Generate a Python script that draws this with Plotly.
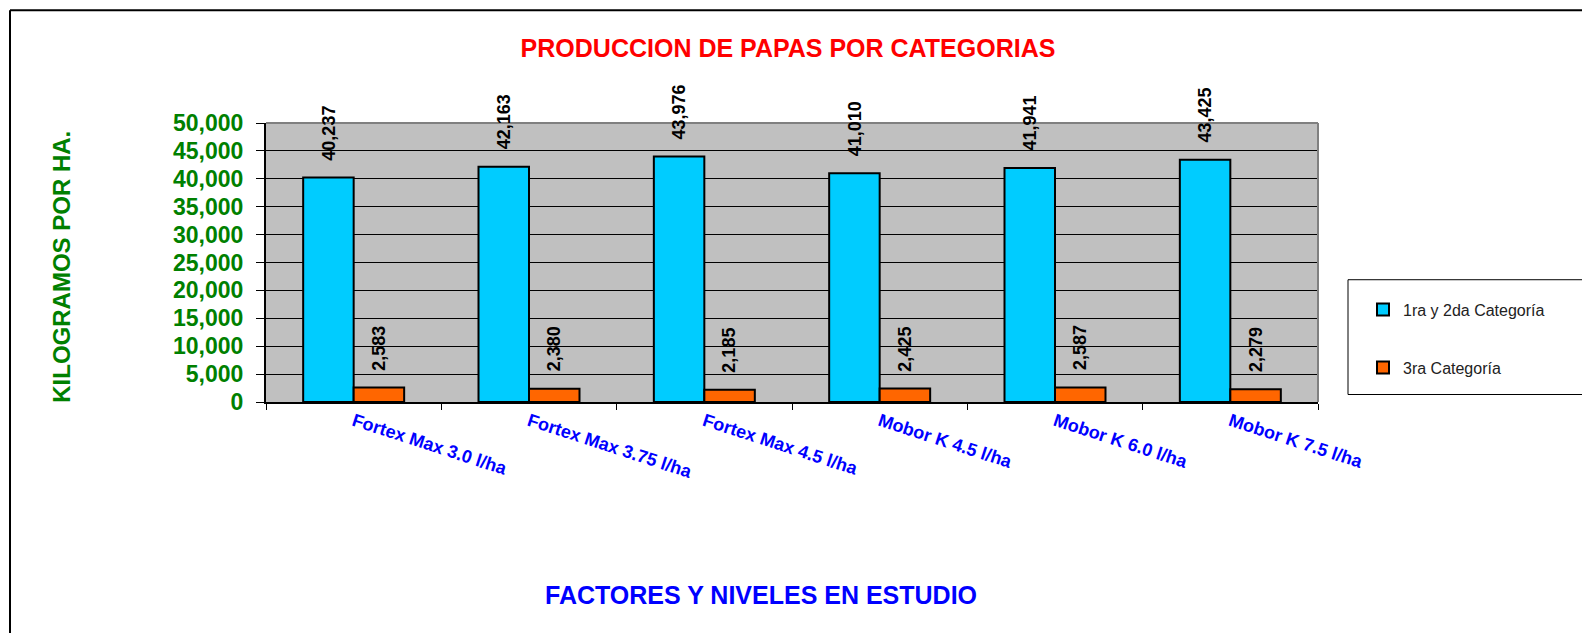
import plotly.graph_objects as go

categories = ["Fortex Max 3.0 l/ha", "Fortex Max 3.75 l/ha", "Fortex Max 4.5 l/ha",
              "Mobor K 4.5 l/ha", "Mobor K 6.0 l/ha", "Mobor K 7.5 l/ha"]
cat12 = [40237, 42163, 43976, 41010, 41941, 43425]
cat3 = [2583, 2380, 2185, 2425, 2587, 2279]
series_names = ["1ra y 2da Categoría", "3ra Categoría"]
title_text = "PRODUCCION DE PAPAS POR CATEGORIAS"
y_title = "KILOGRAMOS POR HA."
x_title = "FACTORES Y NIVELES EN ESTUDIO"

OFF = 8  # default page body margin
W, H = 1590 - OFF, 633 - OFF
L, R, T, B = 266, 1318, 123, 402.5   # plot area in page pixels

def px(x):
    return (x - L) / (R - L)

def py(y):
    return (B - y) / (B - T)

FONT = "Arial, Liberation Sans, sans-serif"

fig = go.Figure()
fig.add_trace(go.Bar(x=categories, y=cat12, name=series_names[0],
                     marker=dict(color="#00CCFF", line=dict(color="black", width=2)),
                     legendgroup="a"))
fig.add_trace(go.Bar(x=categories, y=cat3, name=series_names[1],
                     marker=dict(color="#FF6600", line=dict(color="black", width=2)),
                     legendgroup="b"))

annotations = []
for vals, shift in ((cat12, -25), (cat3, 25)):
    for c, v in zip(categories, vals):
        annotations.append(dict(x=c, y=v, xref="x", yref="y", text=f"{v:,}",
                                textangle=-90, showarrow=False, xshift=shift, yshift=15,
                                xanchor="center", yanchor="bottom",
                                font=dict(family=FONT, size=18, color="black", weight="bold")))

annotations.append(dict(x=px(62), y=py(267), xref="paper", yref="paper", text=y_title,
                        textangle=-90, showarrow=False, xanchor="center", yanchor="middle",
                        font=dict(family=FONT, size=24, color="#008000", weight="bold")))
annotations.append(dict(x=px(761), y=py(596), xref="paper", yref="paper", text=x_title,
                        showarrow=False, xanchor="center", yanchor="middle",
                        font=dict(family=FONT, size=25, color="#0000FF", weight="bold")))

shapes = [
    # outer frame (left and top edges)
    dict(type="line", xref="paper", yref="paper", x0=px(10), x1=px(10), y0=-2, y1=py(10),
         line=dict(color="black", width=2)),
    dict(type="line", xref="paper", yref="paper", x0=px(10), x1=2, y0=py(10), y1=py(10),
         line=dict(color="black", width=2)),
    # plot-area top & right border (grey)
    dict(type="line", xref="paper", yref="paper", x0=0, x1=1, y0=1, y1=1,
         line=dict(color="#808080", width=2)),
    dict(type="line", xref="paper", yref="paper", x0=1, x1=1, y0=0, y1=1,
         line=dict(color="#808080", width=2)),
    # legend box
    dict(type="rect", xref="paper", yref="paper", x0=px(1348), x1=px(1587), y0=py(395), y1=py(280),
         line=dict(color="black", width=1), fillcolor="rgba(0,0,0,0)"),
]

fig.update_layout(
    width=W, height=H,
    margin=dict(l=L - OFF, r=W + OFF - R, t=T - OFF, b=H + OFF - B),
    paper_bgcolor="white", plot_bgcolor="#C0C0C0",
    barmode="group", bargap=0.424, bargroupgap=0,
    title=dict(text=title_text, x=(788 - OFF) / W, y=1 - (48 - OFF) / H,
               xref="container", yref="container",
               xanchor="center", yanchor="middle",
               font=dict(family=FONT, size=25, color="#FF0000", weight="bold")),
    xaxis=dict(showline=True, linecolor="black", linewidth=2, ticks="outside", ticklen=6,
               tickcolor="black", tickson="boundaries", tickangle=18, showgrid=False,
               tickfont=dict(family=FONT, size=18, color="#0000FF", weight="bold")),
    yaxis=dict(range=[0, 50000], dtick=5000, tickformat=",", showline=True, linecolor="black",
               linewidth=2, ticks="outside", ticklen=8, tickcolor="black",
               showgrid=True, gridcolor="black", gridwidth=1, zeroline=False,
               ticklabelstandoff=8,
               tickfont=dict(family=FONT, size=23, color="#008000", weight="bold")),
    legend=dict(x=px(1363), y=py(293), xanchor="left", yanchor="top",
                bgcolor="rgba(0,0,0,0)", borderwidth=0, traceorder="grouped",
                tracegroupgap=34,
                font=dict(family=FONT, size=16, color="#222222")),
    annotations=annotations,
    shapes=shapes,
)

fig.write_html("out.html")
